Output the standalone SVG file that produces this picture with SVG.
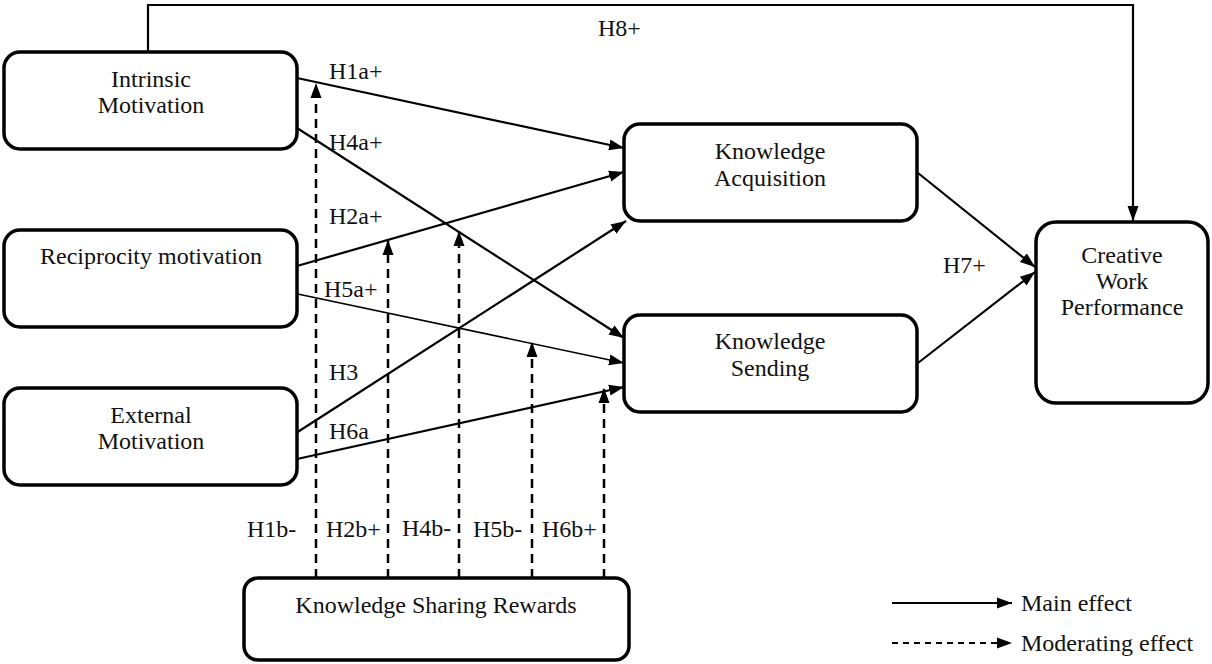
<svg xmlns="http://www.w3.org/2000/svg" width="1212" height="664" viewBox="0 0 1212 664">
<style>
.box{fill:#fff;stroke:#000;stroke-width:3.5}
.t{font-family:"Liberation Serif","Times New Roman",serif;font-size:24px;fill:#111}
.m{text-anchor:middle}
.c{fill:none;stroke:#000;stroke-width:2.2}
.thin{stroke-width:1.6}
.d{fill:none;stroke:#000;stroke-width:2.5;stroke-dasharray:9,6}
</style>
<defs>
<marker id="ah" markerUnits="userSpaceOnUse" markerWidth="16" markerHeight="14" refX="15" refY="7" orient="auto">
<path d="M0,1.5 L15,7 L0,12.5 z" fill="#000"/>
</marker>
</defs>
<rect width="1212" height="664" fill="#fff"/>
<g id="connectors">
<path class="c" d="M148,52 V5 H1133 V221" marker-end="url(#ah)"/>
<line class="c" x1="297" y1="78" x2="624" y2="148" marker-end="url(#ah)"/>
<line class="c" x1="297" y1="128" x2="624" y2="338" marker-end="url(#ah)"/>
<line class="c" x1="297" y1="266" x2="624" y2="172" marker-end="url(#ah)"/>
<line class="c thin" x1="293" y1="293" x2="624" y2="363" marker-end="url(#ah)"/>
<line class="c" x1="293" y1="435" x2="626" y2="221" marker-end="url(#ah)"/>
<line class="c" x1="297" y1="459" x2="624" y2="387" marker-end="url(#ah)"/>
<line class="c" x1="918" y1="173" x2="1035" y2="267" marker-end="url(#ah)"/>
<line class="c" x1="918" y1="363" x2="1035" y2="272" marker-end="url(#ah)"/>
<line class="d" x1="316" y1="578" x2="316" y2="83" marker-end="url(#ah)"/>
<line class="d" x1="388" y1="578" x2="388" y2="240" marker-end="url(#ah)"/>
<line class="d" x1="459" y1="578" x2="459" y2="231" marker-end="url(#ah)"/>
<line class="d" x1="532" y1="578" x2="532" y2="342" marker-end="url(#ah)"/>
<line class="d" x1="604" y1="578" x2="604" y2="388" marker-end="url(#ah)"/>
<text class="t" x="598" y="36">H8+</text>
<text class="t" x="329" y="79">H1a+</text>
<text class="t" x="329" y="150">H4a+</text>
<text class="t" x="329" y="224">H2a+</text>
<text class="t" x="324" y="297">H5a+</text>
<text class="t" x="329" y="380">H3</text>
<text class="t" x="329" y="439">H6a</text>
<text class="t" x="943" y="273">H7+</text>
<text class="t" x="247" y="537">H1b-</text>
<text class="t" x="326" y="537">H2b+</text>
<text class="t" x="402" y="536">H4b-</text>
<text class="t" x="473" y="537">H5b-</text>
<text class="t" x="542" y="537">H6b+</text>
</g>
<g id="intrinsic">
<rect class="box" x="4" y="52" width="293" height="97" rx="16"/>
<text class="t m" x="151" y="87">Intrinsic</text>
<text class="t m" x="151" y="113">Motivation</text>
</g>
<g id="reciprocity">
<rect class="box" x="4" y="230" width="293" height="97" rx="16"/>
<text class="t m" x="151" y="264">Reciprocity motivation</text>
</g>
<g id="external">
<rect class="box" x="4" y="388" width="293" height="97" rx="16"/>
<text class="t m" x="151" y="423">External</text>
<text class="t m" x="151" y="449">Motivation</text>
</g>
<g id="acquisition">
<rect class="box" x="624" y="124" width="293" height="97" rx="16"/>
<text class="t m" x="770" y="159">Knowledge</text>
<text class="t m" x="770" y="186">Acquisition</text>
</g>
<g id="sending">
<rect class="box" x="624" y="315" width="293" height="97" rx="16"/>
<text class="t m" x="770" y="349">Knowledge</text>
<text class="t m" x="770" y="376">Sending</text>
</g>
<g id="creative">
<rect class="box" x="1036" y="222" width="172" height="181" rx="20"/>
<text class="t m" x="1122" y="263">Creative</text>
<text class="t m" x="1122" y="289">Work</text>
<text class="t m" x="1122" y="315">Performance</text>
</g>
<g id="rewards">
<rect class="box" x="244" y="578" width="385" height="82" rx="14"/>
<text class="t m" x="436" y="613">Knowledge Sharing Rewards</text>
</g>
<g id="legend">
<line class="c" x1="892" y1="603" x2="1012" y2="603" marker-end="url(#ah)"/>
<line class="c" x1="892" y1="643" x2="1012" y2="643" stroke-dasharray="6,5" marker-end="url(#ah)"/>
<text class="t" x="1021" y="611">Main effect</text>
<text class="t" x="1021" y="651">Moderating effect</text>
</g>
</svg>
